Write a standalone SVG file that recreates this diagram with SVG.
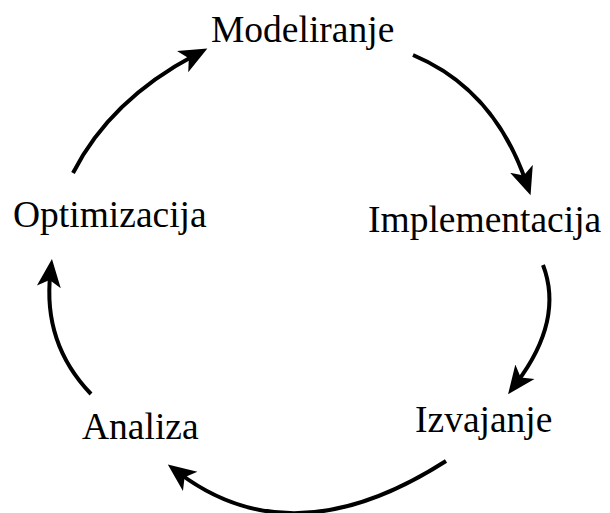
<svg xmlns="http://www.w3.org/2000/svg" width="610" height="513" viewBox="0 0 610 513">
  <style>
    .lbl { font-family: "Liberation Serif", "Times New Roman", serif; font-size: 37.5px; fill: #000; }
    .arr { fill: none; stroke: #000; stroke-width: 4; marker-end: url(#head); }
  </style>
  <defs>
    <marker id="head" markerUnits="userSpaceOnUse" viewBox="0 -13 30 26" markerWidth="30" markerHeight="26" refX="14" refY="0" orient="auto">
      <path d="M28,0 L0,-12 L7,0 L0,12 Z" fill="#000"/>
    </marker>
  </defs>
  <rect width="610" height="513" fill="#fff"/>
  <g id="connectors">
    <path class="arr" d="M73,173 Q110,100 195,55"/>
    <path class="arr" d="M413,55 Q494,89 526,182"/>
    <path class="arr" d="M543,265 Q564,320 516.5,383"/>
    <path class="arr" d="M446,461 Q293,559 179,473"/>
    <path class="arr" d="M91,394 Q42.5,343.5 50.4,273"/>
  </g>
  <g id="modeliranje"><text class="lbl" x="211" y="42">Modeliranje</text></g>
  <g id="implementacija"><text class="lbl" x="368" y="232">Implementacija</text></g>
  <g id="izvajanje"><text class="lbl" x="415" y="432">Izvajanje</text></g>
  <g id="analiza"><text class="lbl" x="82" y="439">Analiza</text></g>
  <g id="optimizacija"><text class="lbl" x="13" y="227">Optimizacija</text></g>
</svg>
